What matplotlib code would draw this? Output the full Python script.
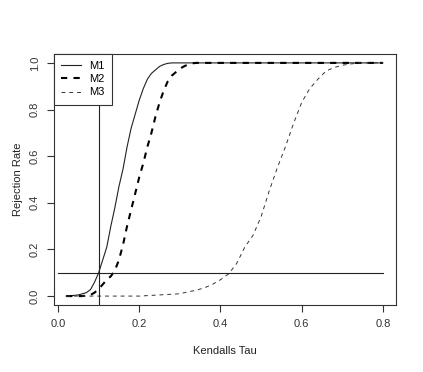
import matplotlib
matplotlib.use("Agg")
import matplotlib.pyplot as plt

plt.rcParams["font.family"] = ["Liberation Sans", "DejaVu Sans"]

# values
m1_tau = [0.02, 0.04, 0.05, 0.06, 0.07, 0.08, 0.09, 0.10, 0.11, 0.12, 0.13, 0.14,
          0.15, 0.16, 0.17, 0.18, 0.19, 0.20, 0.21, 0.22, 0.23, 0.24, 0.25, 0.26,
          0.27, 0.28, 0.30, 0.40, 0.50, 0.60, 0.70, 0.80]
m1_rate = [0.00, 0.003, 0.005, 0.01, 0.015, 0.028, 0.06, 0.10, 0.155, 0.21, 0.30, 0.38,
           0.47, 0.545, 0.64, 0.72, 0.78, 0.84, 0.89, 0.93, 0.955, 0.97, 0.985, 0.993,
           0.998, 1.0, 1.0, 1.0, 1.0, 1.0, 1.0, 1.0]

m2_tau = [0.02, 0.04, 0.06, 0.08, 0.09, 0.10, 0.11, 0.12, 0.13, 0.14, 0.15, 0.16,
          0.17, 0.18, 0.19, 0.20, 0.21, 0.22, 0.23, 0.24, 0.25, 0.26, 0.27, 0.28,
          0.29, 0.30, 0.31, 0.32, 0.33, 0.34, 0.40, 0.50, 0.60, 0.70, 0.80]
m2_rate = [0.00, 0.00, 0.00, 0.005, 0.015, 0.03, 0.05, 0.07, 0.085, 0.11, 0.155, 0.22,
           0.30, 0.37, 0.44, 0.51, 0.57, 0.64, 0.70, 0.77, 0.83, 0.88, 0.92, 0.945,
           0.96, 0.975, 0.985, 0.993, 0.998, 1.0, 1.0, 1.0, 1.0, 1.0, 1.0]

m3_tau = [0.02, 0.10, 0.20, 0.25, 0.28, 0.30, 0.32, 0.34, 0.36, 0.38, 0.40, 0.42,
          0.44, 0.46, 0.48, 0.50, 0.52, 0.54, 0.56, 0.58, 0.60, 0.62, 0.64, 0.66,
          0.68, 0.70, 0.72, 0.74, 0.80]
m3_rate = [0.00, 0.00, 0.00, 0.005, 0.008, 0.01, 0.018, 0.025, 0.035, 0.05, 0.07, 0.095,
           0.14, 0.21, 0.26, 0.34, 0.45, 0.55, 0.64, 0.74, 0.83, 0.89, 0.93, 0.965,
           0.98, 0.99, 0.995, 1.0, 1.0]

fig = plt.figure(figsize=(4.23, 3.72), dpi=100)
ax = fig.add_axes([0.1265, 0.179, 0.8085, 0.677])

ax.plot(m1_tau, m1_rate, color="#222222", lw=0.8, label="M1")
ax.plot(m2_tau, m2_rate, color="black", lw=1.5, dashes=(3, 3), label="M2")
ax.plot(m3_tau, m3_rate, color="#333333", lw=0.7, dashes=(4, 4), label="M3")

ax.axvline(0.1, color="#222222", lw=0.8)
ax.plot([0, 0.8], [0.1, 0.1], color="#222222", lw=0.8)

ax.set_xlim(-0.0112, 0.8312)
ax.set_ylim(-0.04, 1.04)
ax.set_xticks([0.0, 0.2, 0.4, 0.6, 0.8])
ax.set_yticks([0.0, 0.2, 0.4, 0.6, 0.8, 1.0])
ax.set_xticklabels(["0.0", "0.2", "0.4", "0.6", "0.8"])
ax.set_yticklabels(["0.0", "0.2", "0.4", "0.6", "0.8", "1.0"], rotation=90, va="center")
ax.tick_params(direction="out", length=5, width=0.8, labelsize=8, colors="#333333", pad=5)
for s in ax.spines.values():
    s.set_linewidth(0.8)
    s.set_color("#333333")

ax.set_xlabel("Kendalls Tau", fontsize=8, color="#222222", labelpad=12)
ax.set_ylabel("Rejection Rate", fontsize=8, color="#222222", labelpad=5)

leg = ax.legend(loc="upper left", borderaxespad=0, fancybox=False, framealpha=1,
                edgecolor="#333333", fontsize=8, handlelength=1.8, handletextpad=0.8,
                labelspacing=0.3, borderpad=0.65)
leg.get_frame().set_linewidth(0.8)

fig.savefig("out.png", dpi=100)
